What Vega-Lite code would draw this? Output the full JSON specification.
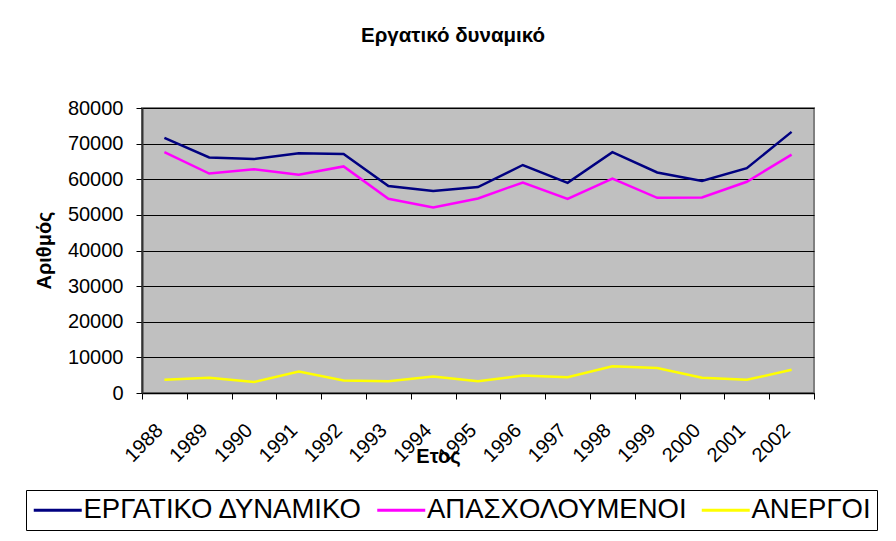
{
  "$schema": "https://vega.github.io/schema/vega-lite/v6.json",
  "autosize": {"type": "none"},
  "width": 672,
  "height": 285,
  "padding": {"left": 142, "top": 108, "right": 82, "bottom": 148},
  "background": "white",
  "title": {
    "text": "Εργατικό δυναμικό",
    "font": "Liberation Sans",
    "fontSize": 20.5,
    "fontWeight": "bold",
    "color": "black",
    "anchor": "middle",
    "frame": "group",
    "dx": -25,
    "baseline": "alphabetic",
    "offset": 36
  },
  "config": {
    "font": "Liberation Sans",
    "view": {"fill": "#C0C0C0", "stroke": "#808080", "strokeWidth": 2}
  },
  "data": {
    "values": [
      {"year": "1988", "series": "ΕΡΓΑΤΙΚΟ ΔΥΝΑΜΙΚΟ", "value": 71600},
      {"year": "1989", "series": "ΕΡΓΑΤΙΚΟ ΔΥΝΑΜΙΚΟ", "value": 66100},
      {"year": "1990", "series": "ΕΡΓΑΤΙΚΟ ΔΥΝΑΜΙΚΟ", "value": 65700},
      {"year": "1991", "series": "ΕΡΓΑΤΙΚΟ ΔΥΝΑΜΙΚΟ", "value": 67300},
      {"year": "1992", "series": "ΕΡΓΑΤΙΚΟ ΔΥΝΑΜΙΚΟ", "value": 67100},
      {"year": "1993", "series": "ΕΡΓΑΤΙΚΟ ΔΥΝΑΜΙΚΟ", "value": 58100},
      {"year": "1994", "series": "ΕΡΓΑΤΙΚΟ ΔΥΝΑΜΙΚΟ", "value": 56700},
      {"year": "1995", "series": "ΕΡΓΑΤΙΚΟ ΔΥΝΑΜΙΚΟ", "value": 57800},
      {"year": "1996", "series": "ΕΡΓΑΤΙΚΟ ΔΥΝΑΜΙΚΟ", "value": 64000},
      {"year": "1997", "series": "ΕΡΓΑΤΙΚΟ ΔΥΝΑΜΙΚΟ", "value": 59000},
      {"year": "1998", "series": "ΕΡΓΑΤΙΚΟ ΔΥΝΑΜΙΚΟ", "value": 67600},
      {"year": "1999", "series": "ΕΡΓΑΤΙΚΟ ΔΥΝΑΜΙΚΟ", "value": 61900},
      {"year": "2000", "series": "ΕΡΓΑΤΙΚΟ ΔΥΝΑΜΙΚΟ", "value": 59500},
      {"year": "2001", "series": "ΕΡΓΑΤΙΚΟ ΔΥΝΑΜΙΚΟ", "value": 63100},
      {"year": "2002", "series": "ΕΡΓΑΤΙΚΟ ΔΥΝΑΜΙΚΟ", "value": 73300},
      {"year": "1988", "series": "ΑΠΑΣΧΟΛΟΥΜΕΝΟΙ", "value": 67600},
      {"year": "1989", "series": "ΑΠΑΣΧΟΛΟΥΜΕΝΟΙ", "value": 61600},
      {"year": "1990", "series": "ΑΠΑΣΧΟΛΟΥΜΕΝΟΙ", "value": 62800},
      {"year": "1991", "series": "ΑΠΑΣΧΟΛΟΥΜΕΝΟΙ", "value": 61300},
      {"year": "1992", "series": "ΑΠΑΣΧΟΛΟΥΜΕΝΟΙ", "value": 63600},
      {"year": "1993", "series": "ΑΠΑΣΧΟΛΟΥΜΕΝΟΙ", "value": 54500},
      {"year": "1994", "series": "ΑΠΑΣΧΟΛΟΥΜΕΝΟΙ", "value": 52100},
      {"year": "1995", "series": "ΑΠΑΣΧΟΛΟΥΜΕΝΟΙ", "value": 54600},
      {"year": "1996", "series": "ΑΠΑΣΧΟΛΟΥΜΕΝΟΙ", "value": 59100},
      {"year": "1997", "series": "ΑΠΑΣΧΟΛΟΥΜΕΝΟΙ", "value": 54500},
      {"year": "1998", "series": "ΑΠΑΣΧΟΛΟΥΜΕΝΟΙ", "value": 60200},
      {"year": "1999", "series": "ΑΠΑΣΧΟΛΟΥΜΕΝΟΙ", "value": 54800},
      {"year": "2000", "series": "ΑΠΑΣΧΟΛΟΥΜΕΝΟΙ", "value": 54900},
      {"year": "2001", "series": "ΑΠΑΣΧΟΛΟΥΜΕΝΟΙ", "value": 59300},
      {"year": "2002", "series": "ΑΠΑΣΧΟΛΟΥΜΕΝΟΙ", "value": 66900},
      {"year": "1988", "series": "ΑΝΕΡΓΟΙ", "value": 3700},
      {"year": "1989", "series": "ΑΝΕΡΓΟΙ", "value": 4300},
      {"year": "1990", "series": "ΑΝΕΡΓΟΙ", "value": 3100},
      {"year": "1991", "series": "ΑΝΕΡΓΟΙ", "value": 6000},
      {"year": "1992", "series": "ΑΝΕΡΓΟΙ", "value": 3500},
      {"year": "1993", "series": "ΑΝΕΡΓΟΙ", "value": 3300},
      {"year": "1994", "series": "ΑΝΕΡΓΟΙ", "value": 4600},
      {"year": "1995", "series": "ΑΝΕΡΓΟΙ", "value": 3300},
      {"year": "1996", "series": "ΑΝΕΡΓΟΙ", "value": 4900},
      {"year": "1997", "series": "ΑΝΕΡΓΟΙ", "value": 4400},
      {"year": "1998", "series": "ΑΝΕΡΓΟΙ", "value": 7500},
      {"year": "1999", "series": "ΑΝΕΡΓΟΙ", "value": 7000},
      {"year": "2000", "series": "ΑΝΕΡΓΟΙ", "value": 4300},
      {"year": "2001", "series": "ΑΝΕΡΓΟΙ", "value": 3700},
      {"year": "2002", "series": "ΑΝΕΡΓΟΙ", "value": 6500}
    ]
  },
  "mark": {"type": "line", "strokeWidth": 2.5},
  "encoding": {
    "x": {
      "field": "year",
      "type": "ordinal",
      "scale": {"type": "band", "paddingInner": 0, "paddingOuter": 0},
      "axis": {
        "title": "Ετος",
        "titleFont": "Liberation Sans",
        "titleFontSize": 20,
        "titleFontWeight": "bold",
        "titleColor": "black",
        "titleX": 296,
        "titleY": 63,
        "titleBaseline": "middle",
        "titleAlign": "center",
        "labelAngle": -45,
        "labelAlign": "right",
        "labelBaseline": "middle",
        "labelPadding": 28,
        "labelOffset": -5,
        "labelFontSize": 20,
        "labelColor": "black",
        "labelFont": "Liberation Sans",
        "tickBand": "extent",
        "tickSize": 6,
        "tickColor": "black",
        "domainColor": "black",
        "domainWidth": 1.5,
        "grid": false
      }
    },
    "y": {
      "field": "value",
      "type": "quantitative",
      "scale": {"domain": [0, 80000], "nice": false},
      "axis": {
        "values": [0, 10000, 20000, 30000, 40000, 50000, 60000, 70000, 80000],
        "format": "d",
        "title": "Αριθμός",
        "titleFont": "Liberation Sans",
        "titleFontSize": 20,
        "titleFontWeight": "bold",
        "titleColor": "black",
        "titleAngle": -90,
        "titleX": -98,
        "titleY": 142,
        "titleAlign": "center",
        "titleBaseline": "middle",
        "labelFontSize": 20,
        "labelColor": "black",
        "labelFont": "Liberation Sans",
        "labelPadding": 13,
        "tickSize": 6,
        "tickColor": "black",
        "domainColor": "#333333",
        "domainWidth": 2,
        "grid": true,
        "gridColor": "black",
        "gridWidth": 1,
        "gridOpacity": 1
      }
    },
    "color": {
      "field": "series",
      "type": "nominal",
      "sort": ["ΕΡΓΑΤΙΚΟ ΔΥΝΑΜΙΚΟ", "ΑΠΑΣΧΟΛΟΥΜΕΝΟΙ", "ΑΝΕΡΓΟΙ"],
      "scale": {
        "domain": ["ΕΡΓΑΤΙΚΟ ΔΥΝΑΜΙΚΟ", "ΑΠΑΣΧΟΛΟΥΜΕΝΟΙ", "ΑΝΕΡΓΟΙ"],
        "range": ["#000080", "#FF00FF", "#FFFF00"]
      },
      "legend": {
        "title": null,
        "orient": "none",
        "legendX": -116,
        "legendY": 382,
        "direction": "horizontal",
        "strokeColor": "black",
        "fillColor": "white",
        "padding": 6,
        "symbolType": "M-1,0H3",
        "symbolSize": 576,
        "symbolStrokeWidth": 3,
        "labelFontSize": 27.5,
        "labelFont": "Liberation Sans",
        "labelColor": "black",
        "labelOffset": 24,
        "columnPadding": 7.5,
        "labelLimit": 500
      }
    }
  }
}
